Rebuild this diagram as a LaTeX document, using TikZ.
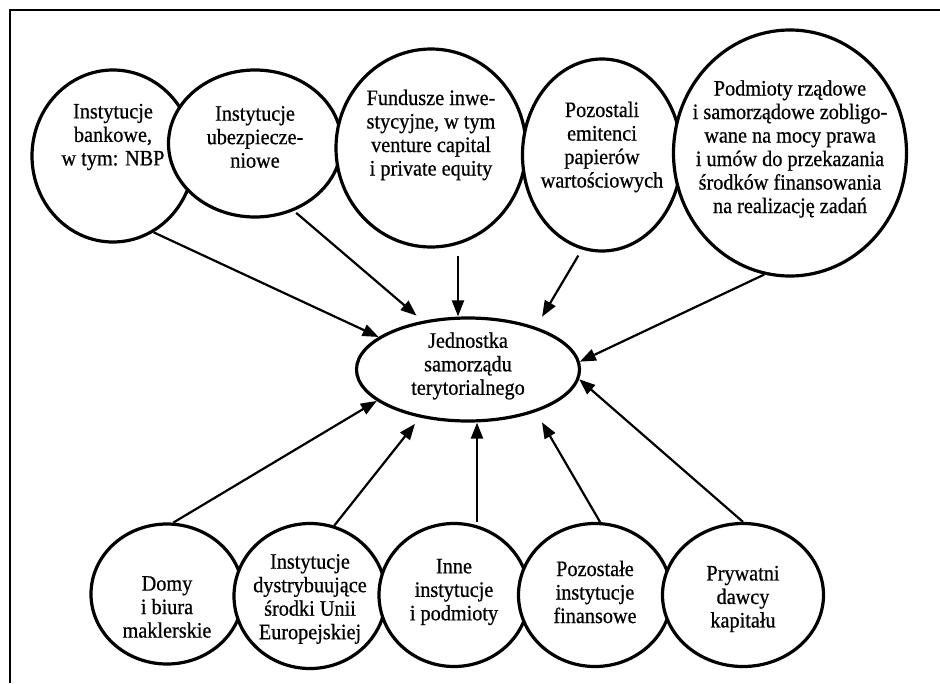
\documentclass[tikz,border=0pt]{standalone}
\usepackage{fontspec}
\newfontfamily\dfont[FakeStretch=0.92,FakeBold=0.6]{Liberation Serif}
\usetikzlibrary{shapes.geometric,arrows.meta}
\begin{document}
\begin{tikzpicture}[x=1pt,y=-1pt,
  oval/.style={ellipse,draw,line width=3.2pt,fill=white,inner sep=0pt},
  lbl/.style={align=center,inner sep=0pt,font=\dfont\fontsize{22}{23.5}\selectfont},
  arr/.style={line width=2.2pt,-{Triangle[length=16pt,width=12pt]}}]
\useasboundingbox (0,0) rectangle (940,683);
\draw[line width=1.6pt] (10,683) -- (10,10) -- (940,10);

% top row
\node[oval,minimum width=162pt,minimum height=172pt] (c1) at (113,156) {};
\node[lbl] (t1) at (113,137) {Instytucje\\bankowe,\\w tym: NBP};
\node[oval,minimum width=173pt,minimum height=147pt] (c2) at (255,143.5) {};
\node[lbl] (t2) at (255,137) {Instytucje\\ubezpiecze-\\niowe};
\node[oval,minimum width=190pt,minimum height=198pt] (c3) at (431,148) {};
\node[lbl] (t3) at (431,135) {Fundusze inwe-\\stycyjne, w tym\\venture capital\\i private equity};
\node[oval,minimum width=159pt,minimum height=192pt] (c4) at (602,155) {};
\node[lbl] (t4) at (602,147) {Pozostali\\emitenci\\papierów\\wartościowych};
\node[oval,minimum width=233pt,minimum height=246pt] (c5) at (790,153) {};
\node[lbl] (t5) at (790,149) {Podmioty rządowe\\i samorządowe zobligo-\\wane na mocy prawa\\i umów do przekazania\\środków finansowania\\na realizację zadań};

% centre
\node[oval,minimum width=223pt,minimum height=103pt] (jst) at (468,369.5) {};
\node[lbl] (tj) at (468,366) {Jednostka\\samorządu\\terytorialnego};

% bottom row
\node[oval,minimum width=152pt,minimum height=140pt] (b1) at (167,594) {};
\node[lbl] (u1) at (167,607) {Domy\\i biura\\maklerskie};
\node[oval,minimum width=152pt,minimum height=145pt] (b2) at (310,596) {};
\node[lbl] (u2) at (310,599) {Instytucje\\dystrybuujące\\środki Unii\\Europejskiej};
\node[oval,minimum width=150pt,minimum height=143pt] (b3) at (454,595) {};
\node[lbl] (u3) at (454,592) {Inne\\instytucje\\i podmioty};
\node[oval,minimum width=153pt,minimum height=143pt] (b4) at (595,595) {};
\node[lbl] (u4) at (595,592) {Pozostałe\\instytucje\\finansowe};
\node[oval,minimum width=161pt,minimum height=143pt] (b5) at (743,595) {};
\node[lbl] (u5) at (743,599) {Prywatni\\dawcy\\kapitału};

% connectors
\draw[arr] (c1.-62) -- (jst.160.9);
\draw[arr,shorten <=3pt,shorten >=8pt] (c2.-60.1) -- (jst.133.5);
\draw[arr] ([xshift=27pt,yshift=-7pt]c3.south) -- ([xshift=-10pt]jst.north);
\draw[arr,shorten <=7pt,shorten >=12pt] (c4.258.7) -- (jst.32.7);
\draw[arr] (c5.258.6) -- (jst.4.85);
\draw[arr] (b1.85.2) -- (jst.199.3);
\draw[arr,shorten >=8pt] (b2.71.1) -- (jst.225.8);
\draw[arr] ([xshift=23pt]b3.north) -- ([xshift=9pt]jst.south);
\draw[arr,shorten >=12pt] (b4.86) -- (jst.-32.4);
\draw[arr] (b5.north) -- (jst.-5.3);
\end{tikzpicture}
\end{document}
